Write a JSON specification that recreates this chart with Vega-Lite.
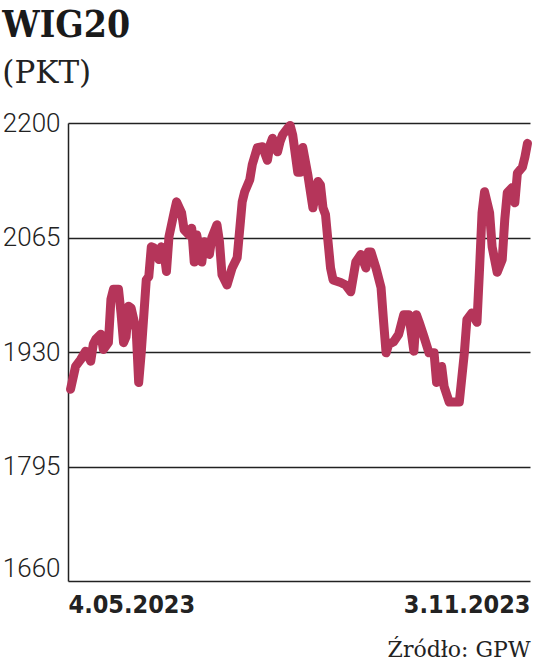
{
  "$schema": "https://vega.github.io/schema/vega-lite/v6.json",
  "width": 462,
  "height": 458,
  "autosize": {"type": "none"},
  "padding": {"left": 68, "top": 123, "right": 6, "bottom": 86},
  "background": "white",
  "title": {
    "text": "WIG20",
    "subtitle": "(PKT)",
    "anchor": "start",
    "frame": "bounds",
    "font": "DejaVu Serif Condensed",
    "fontSize": 37,
    "fontWeight": "bold",
    "color": "#1a1a1a",
    "subtitleFont": "DejaVu Serif",
    "subtitleFontSize": 31,
    "subtitleColor": "#222222",
    "subtitlePadding": 14,
    "offset": 20
  },
  "data": {
    "values": [
      {"date": "2023-05-05", "v": 1886},
      {"date": "2023-05-07", "v": 1913},
      {"date": "2023-05-09", "v": 1921},
      {"date": "2023-05-11", "v": 1931},
      {"date": "2023-05-13", "v": 1919},
      {"date": "2023-05-14", "v": 1939},
      {"date": "2023-05-15", "v": 1945},
      {"date": "2023-05-17", "v": 1951},
      {"date": "2023-05-18", "v": 1933},
      {"date": "2023-05-20", "v": 1941},
      {"date": "2023-05-21", "v": 1992},
      {"date": "2023-05-22", "v": 2004},
      {"date": "2023-05-24", "v": 2004},
      {"date": "2023-05-25", "v": 1976},
      {"date": "2023-05-26", "v": 1941},
      {"date": "2023-05-27", "v": 1948},
      {"date": "2023-05-28", "v": 1984},
      {"date": "2023-05-29", "v": 1982},
      {"date": "2023-05-31", "v": 1956},
      {"date": "2023-06-01", "v": 1894},
      {"date": "2023-06-02", "v": 1929},
      {"date": "2023-06-04", "v": 2015},
      {"date": "2023-06-05", "v": 2019},
      {"date": "2023-06-06", "v": 2054},
      {"date": "2023-06-07", "v": 2053},
      {"date": "2023-06-09", "v": 2039},
      {"date": "2023-06-10", "v": 2054},
      {"date": "2023-06-11", "v": 2048},
      {"date": "2023-06-12", "v": 2025},
      {"date": "2023-06-13", "v": 2066},
      {"date": "2023-06-15", "v": 2094},
      {"date": "2023-06-16", "v": 2107},
      {"date": "2023-06-18", "v": 2094},
      {"date": "2023-06-19", "v": 2074},
      {"date": "2023-06-21", "v": 2068},
      {"date": "2023-06-22", "v": 2076},
      {"date": "2023-06-23", "v": 2036},
      {"date": "2023-06-24", "v": 2068},
      {"date": "2023-06-26", "v": 2036},
      {"date": "2023-06-27", "v": 2060},
      {"date": "2023-06-29", "v": 2045},
      {"date": "2023-06-30", "v": 2065},
      {"date": "2023-07-02", "v": 2080},
      {"date": "2023-07-03", "v": 2060},
      {"date": "2023-07-04", "v": 2021},
      {"date": "2023-07-06", "v": 2009},
      {"date": "2023-07-08", "v": 2029},
      {"date": "2023-07-10", "v": 2041},
      {"date": "2023-07-12", "v": 2107},
      {"date": "2023-07-13", "v": 2119},
      {"date": "2023-07-15", "v": 2133},
      {"date": "2023-07-16", "v": 2151},
      {"date": "2023-07-18", "v": 2171},
      {"date": "2023-07-20", "v": 2172},
      {"date": "2023-07-22", "v": 2156},
      {"date": "2023-07-23", "v": 2174},
      {"date": "2023-07-24", "v": 2182},
      {"date": "2023-07-26", "v": 2166},
      {"date": "2023-07-27", "v": 2178},
      {"date": "2023-07-28", "v": 2186},
      {"date": "2023-07-30", "v": 2194},
      {"date": "2023-07-31", "v": 2197},
      {"date": "2023-08-01", "v": 2186},
      {"date": "2023-08-03", "v": 2142},
      {"date": "2023-08-04", "v": 2142},
      {"date": "2023-08-05", "v": 2171},
      {"date": "2023-08-07", "v": 2139},
      {"date": "2023-08-09", "v": 2100},
      {"date": "2023-08-11", "v": 2131},
      {"date": "2023-08-12", "v": 2127},
      {"date": "2023-08-13", "v": 2100},
      {"date": "2023-08-14", "v": 2092},
      {"date": "2023-08-15", "v": 2060},
      {"date": "2023-08-16", "v": 2029},
      {"date": "2023-08-17", "v": 2015},
      {"date": "2023-08-20", "v": 2012},
      {"date": "2023-08-22", "v": 2009},
      {"date": "2023-08-24", "v": 2001},
      {"date": "2023-08-26", "v": 2036},
      {"date": "2023-08-28", "v": 2045},
      {"date": "2023-08-30", "v": 2029},
      {"date": "2023-08-31", "v": 2048},
      {"date": "2023-09-01", "v": 2048},
      {"date": "2023-09-03", "v": 2029},
      {"date": "2023-09-05", "v": 2006},
      {"date": "2023-09-06", "v": 1966},
      {"date": "2023-09-07", "v": 1929},
      {"date": "2023-09-08", "v": 1939},
      {"date": "2023-09-10", "v": 1942},
      {"date": "2023-09-12", "v": 1951},
      {"date": "2023-09-14", "v": 1974},
      {"date": "2023-09-16", "v": 1974},
      {"date": "2023-09-18", "v": 1931},
      {"date": "2023-09-19", "v": 1974},
      {"date": "2023-09-20", "v": 1966},
      {"date": "2023-09-22", "v": 1948},
      {"date": "2023-09-24", "v": 1929},
      {"date": "2023-09-26", "v": 1929},
      {"date": "2023-09-27", "v": 1894},
      {"date": "2023-09-29", "v": 1913},
      {"date": "2023-09-30", "v": 1889},
      {"date": "2023-10-02", "v": 1871},
      {"date": "2023-10-04", "v": 1871},
      {"date": "2023-10-06", "v": 1871},
      {"date": "2023-10-08", "v": 1929},
      {"date": "2023-10-09", "v": 1968},
      {"date": "2023-10-11", "v": 1976},
      {"date": "2023-10-13", "v": 1965},
      {"date": "2023-10-14", "v": 2027},
      {"date": "2023-10-15", "v": 2094},
      {"date": "2023-10-16", "v": 2119},
      {"date": "2023-10-18", "v": 2094},
      {"date": "2023-10-19", "v": 2054},
      {"date": "2023-10-21", "v": 2024},
      {"date": "2023-10-23", "v": 2039},
      {"date": "2023-10-24", "v": 2086},
      {"date": "2023-10-25", "v": 2118},
      {"date": "2023-10-27", "v": 2124},
      {"date": "2023-10-28", "v": 2106},
      {"date": "2023-10-29", "v": 2141},
      {"date": "2023-10-31", "v": 2148},
      {"date": "2023-11-01", "v": 2160},
      {"date": "2023-11-02", "v": 2176}
    ]
  },
  "mark": {
    "type": "line",
    "color": "#b5355a",
    "strokeWidth": 9,
    "strokeCap": "round",
    "strokeJoin": "round"
  },
  "encoding": {
    "x": {
      "field": "date",
      "type": "temporal",
      "scale": {
        "type": "utc",
        "domain": [
          {"year": 2023, "month": 5, "date": 4, "utc": true},
          {"year": 2023, "month": 11, "date": 3, "utc": true}
        ]
      },
      "axis": {
        "values": [
          {"year": 2023, "month": 5, "date": 4, "utc": true},
          {"year": 2023, "month": 11, "date": 3, "utc": true}
        ],
        "labelExpr": "utcFormat(datum.value, '%-d.%m.%Y')",
        "labelFlush": true,
        "grid": false,
        "domain": false,
        "ticks": false,
        "labelFont": "DejaVu Sans Condensed",
        "labelFontSize": 25,
        "labelFontWeight": "bold",
        "labelColor": "#222222",
        "labelPadding": 11,
        "title": "Źródło: GPW",
        "titleAnchor": "end",
        "titleFont": "DejaVu Serif",
        "titleFontSize": 22,
        "titleFontWeight": "normal",
        "titleColor": "#222222",
        "titlePadding": 22
      }
    },
    "y": {
      "field": "v",
      "type": "quantitative",
      "scale": {"domain": [1660, 2200], "nice": false, "zero": false},
      "axis": {
        "values": [1660, 1795, 1930, 2065, 2200],
        "format": "d",
        "title": null,
        "grid": true,
        "gridColor": "#222222",
        "gridWidth": 1.5,
        "domain": true,
        "domainColor": "#222222",
        "domainWidth": 1.5,
        "ticks": false,
        "labelPadding": 8,
        "labelFont": "Roboto",
        "labelFontWeight": 300,
        "labelFontSize": 26,
        "labelColor": "#222222",
        "labelBaseline": {
          "condition": {"test": "datum.value == 1660", "value": "bottom"},
          "value": "middle"
        }
      }
    }
  },
  "config": {"view": {"stroke": null}}
}
